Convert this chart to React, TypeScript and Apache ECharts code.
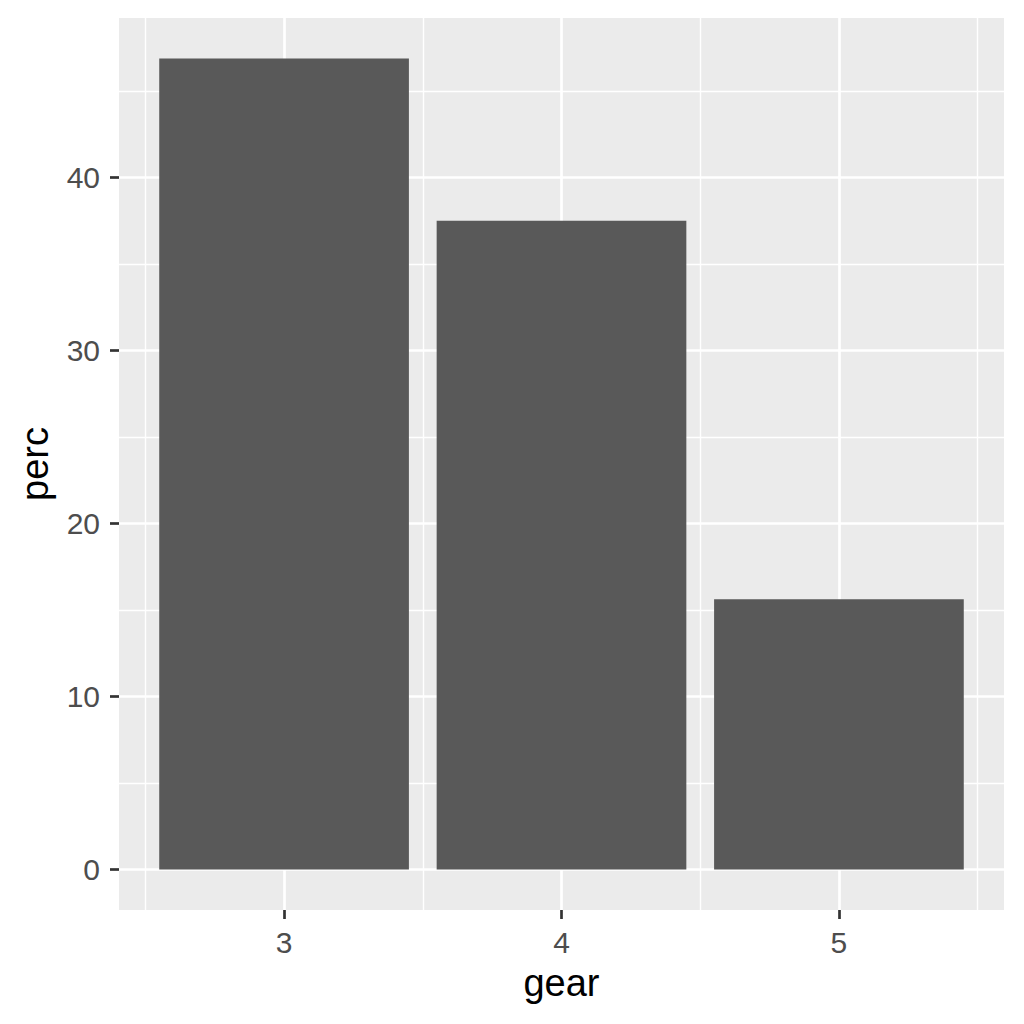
import React, { useEffect, useRef } from 'react';
import * as echarts from 'echarts';

// mtcars: share of cars per gear count
const gears = [3, 4, 5];
const perc = [46.875, 37.5, 15.625];

const xMajor = [3, 4, 5];
const xMinor = [2.5, 3.5, 4.5, 5.5];
const yMajor = [0, 10, 20, 30, 40];
const yMinor = [5, 15, 25, 35, 45];

const FONT = '"Liberation Sans", Arial, sans-serif';

const App: React.FC = () => {
  const chartRef = useRef<HTMLDivElement>(null);

  useEffect(() => {
    if (!chartRef.current) return;
    const chart = echarts.init(chartRef.current, undefined, { renderer: 'svg' });

    const xRange = { min: 2.405, max: 5.595 };
    const yRange = { min: -2.34375, max: 49.21875 };

    const minorAxis = (values: number[]) => ({
      type: 'value' as const,
      axisLine: { show: false, onZero: false },
      axisTick: { show: false, customValues: values },
      axisLabel: { show: false, customValues: values },
      splitLine: { show: true, lineStyle: { color: '#ffffff', width: 1.4 } },
    });

    const majorAxis = (values: number[], margin: number) => ({
      type: 'value' as const,
      axisLine: { show: false, onZero: false },
      axisTick: {
        show: true,
        customValues: values,
        length: 9,
        lineStyle: { color: '#333333', width: 2.7 },
      },
      axisLabel: {
        customValues: values,
        color: '#4d4d4d',
        fontSize: 30,
        fontFamily: FONT,
        margin,
      },
      splitLine: { show: true, lineStyle: { color: '#ffffff', width: 2.7 } },
      nameLocation: 'middle' as const,
      nameTextStyle: { color: '#000000', fontSize: 38, fontFamily: FONT },
    });

    const option: echarts.EChartsOption = {
      animation: false,
      backgroundColor: '#ffffff',
      grid: {
        left: 119,
        top: 18,
        width: 885,
        height: 892,
        show: true,
        backgroundColor: '#ebebeb',
        borderWidth: 0,
      },
      xAxis: [
        { ...minorAxis(xMinor), ...xRange, position: 'bottom' },
        {
          ...majorAxis(xMajor, 17),
          ...xRange,
          position: 'bottom',
          name: 'gear',
          nameGap: 54,
        },
      ],
      yAxis: [
        { ...minorAxis(yMinor), ...yRange, position: 'left' },
        {
          ...majorAxis(yMajor, 19),
          ...yRange,
          position: 'left',
          name: 'perc',
          nameGap: 65,
          nameRotate: 90,
        },
      ],
      series: [
        {
          type: 'custom',
          xAxisIndex: 1,
          yAxisIndex: 1,
          data: gears.map((g, i) => [g, perc[i]]),
          renderItem: (params: any, api: any) => {
            const x = api.value(0);
            const y = api.value(1);
            const p0 = api.coord([x - 0.45, y]);
            const p1 = api.coord([x + 0.45, 0]);
            return {
              type: 'rect',
              shape: { x: p0[0], y: p0[1], width: p1[0] - p0[0], height: p1[1] - p0[1] },
              style: { fill: '#595959' },
            };
          },
          z: 3,
        },
      ],
    };

    chart.setOption(option);
    return () => {
      chart.dispose();
    };
  }, []);

  return (
    <div
      ref={chartRef}
      style={{ position: 'fixed', left: 0, top: 0, width: '1024px', height: '1024px' }}
    />
  );
};

export default App;
